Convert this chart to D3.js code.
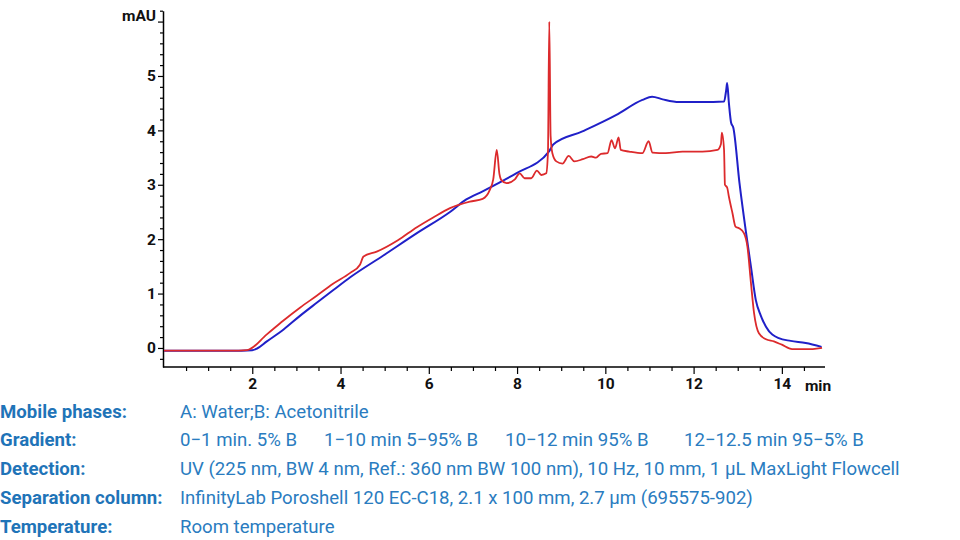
<!DOCTYPE html>
<html>
<head>
<meta charset="utf-8">
<script src="https://cdn.jsdelivr.net/npm/d3@7"></script>
<style>
  body { margin: 0; background: #fff; }
  svg { display: block; }
</style>
</head>
<body>
<div id="chart"></div>
<script>
// Chromatogram data: time (min) and absorbance (mAU)
var blueTime = [0, 0.5, 1, 1.5, 2.0, 2.11, 2.33, 2.71, 3.08, 3.46, 3.83, 4.22, 4.97, 5.73, 6.48, 6.85, 7.22, 7.6, 7.98, 8.73, 8.78, 8.82, 9.48, 10.24, 10.84, 11.06, 11.3, 11.67, 12.2, 12.69, 12.74, 12.76, 12.8, 12.85, 12.9, 13.04, 13.19, 13.3, 13.41, 13.52, 13.64, 13.93, 14.2, 14.54, 14.9];
var blueAbs = [-0.05, -0.05, -0.05, -0.05, -0.04, -0.01, 0.12, 0.34, 0.59, 0.83, 1.06, 1.30, 1.70, 2.11, 2.5, 2.73, 2.88, 3.04, 3.21, 3.62, 3.69, 3.74, 3.98, 4.28, 4.56, 4.62, 4.57, 4.52, 4.52, 4.53, 4.75, 4.87, 4.5, 4.14, 4.05, 3.03, 2.11, 1.49, 0.88, 0.6, 0.39, 0.18, 0.13, 0.09, 0.02];

var redTime = [0, 0.5, 1, 1.5, 1.88, 2.33, 2.7, 3.08, 3.46, 3.83, 4.22, 4.44, 4.52, 4.82, 5.3, 5.73, 6.1, 6.48, 6.93, 7.22, 7.38, 7.46, 7.54, 7.6, 7.64, 7.76, 7.95, 8.06, 8.17, 8.32, 8.45, 8.55, 8.66, 8.7, 8.73, 8.76, 8.8, 8.89, 9.03, 9.17, 9.3, 9.49, 9.68, 9.79, 9.9, 10.05, 10.14, 10.22, 10.3, 10.35, 10.54, 10.84, 10.98, 11.07, 11.37, 11.75, 12.2, 12.54, 12.62, 12.64, 12.69, 12.71, 12.76, 12.8, 12.88, 12.95, 13.03, 13.14, 13.22, 13.3, 13.37, 13.48, 13.64, 13.82, 14.0, 14.23, 14.7, 14.91];
var redAbs = [-0.05, -0.05, -0.05, -0.05, -0.04, 0.25, 0.5, 0.74, 0.96, 1.18, 1.38, 1.53, 1.68, 1.77, 1.98, 2.22, 2.4, 2.57, 2.69, 2.74, 2.9, 3.1, 3.64, 3.2, 3.09, 3.03, 3.1, 3.21, 3.12, 3.12, 3.26, 3.18, 3.21, 3.6, 6.0, 3.9, 3.58, 3.43, 3.39, 3.53, 3.43, 3.47, 3.52, 3.50, 3.57, 3.58, 3.82, 3.67, 3.87, 3.64, 3.61, 3.58, 3.80, 3.59, 3.58, 3.61, 3.61, 3.64, 3.75, 3.96, 3.64, 3.0, 2.95, 2.78, 2.48, 2.23, 2.2, 2.11, 1.86, 1.19, 0.64, 0.27, 0.16, 0.12, 0.06, -0.02, -0.02, 0];

var xTickLabels = [2, 4, 6, 8, 10, 12, 14];
var yTickLabels = [0, 1, 2, 3, 4, 5];

var infoLabels = ["Mobile phases:", "Gradient:", "Detection:", "Separation column:", "Temperature:"];
var infoValues = ["A: Water;B: Acetonitrile", null, "UV (225 nm, BW 4 nm, Ref.: 360 nm BW 100 nm), 10 Hz, 10 mm, 1 \u00b5L MaxLight Flowcell", "InfinityLab Poroshell 120 EC-C18, 2.1 x 100 mm, 2.7 \u00b5m (695575-902)", "Room temperature"];
var gradientSteps = ["0\u22121 min. 5% B", "1\u221210 min 5\u221295% B", "10\u221212 min 95% B", "12\u221212.5 min 95\u22125% B"];

var width = 960, height = 540;
var plot = {left: 163, right: 825, top: 10.7, bottom: 367};

var svg = d3.select("#chart").append("svg")
	.attr("width", width)
	.attr("height", height);

var x = d3.scaleLinear().domain([0, 15]).range([plot.left + 1, plot.right + 1]);
var y = d3.scaleLinear().domain([-0.35, 6.2]).range([plot.bottom, plot.top]);

var axisFont = "Roboto, 'Liberation Sans', sans-serif";

// x axis: minor ticks every 0.5 min, labelled every 2
var xAxis = svg.append("g")
	.attr("transform", "translate(0," + plot.bottom + ")")
	.call(d3.axisBottom(x)
		.tickValues(d3.range(0.5, 14.91, 0.5))
		.tickSize(4)
		.tickFormat(function(d) { return xTickLabels.indexOf(d) >= 0 ? d : ""; })
		.tickSizeOuter(0));
xAxis.select(".domain").attr("stroke", "#000").attr("stroke-width", 1.5)
	.attr("d", "M" + plot.left + ",0H" + plot.right);
xAxis.selectAll(".tick line").attr("stroke", "#000").attr("stroke-width", 1.2)
	.attr("y2", function(d) { return xTickLabels.indexOf(d) >= 0 ? 7 : 4; });
xAxis.selectAll(".tick text")
	.attr("y", 11)
	.style("font-family", axisFont)
	.style("font-weight", "bold")
	.style("font-size", "15.5px")
	.attr("fill", "#111");

svg.append("text")
	.attr("x", 818)
	.attr("y", 391)
	.attr("text-anchor", "middle")
	.style("font-family", axisFont)
	.style("font-weight", "bold")
	.style("font-size", "15.5px")
	.attr("fill", "#111")
	.text("min");

// y axis: minor ticks every 0.2 mAU, labelled at integers
var yMinor = d3.range(-0.2, 6.21, 0.2).map(function(d) { return Math.round(d * 10) / 10; });
var yAxis = svg.append("g")
	.attr("transform", "translate(" + plot.left + ",0)")
	.call(d3.axisLeft(y)
		.tickValues(yMinor)
		.tickSize(3)
		.tickFormat(function(d) { return yTickLabels.indexOf(d) >= 0 ? d : ""; })
		.tickSizeOuter(0));
yAxis.select(".domain").attr("stroke", "#000").attr("stroke-width", 1.5);
yAxis.selectAll(".tick line").attr("stroke", "#000").attr("stroke-width", 1.2)
	.attr("x2", function(d) { return Number.isInteger(d) ? -5 : -3; });
yAxis.selectAll(".tick text")
	.attr("x", -7)
	.style("font-family", axisFont)
	.style("font-weight", "bold")
	.style("font-size", "15.5px")
	.attr("fill", "#111");

svg.append("text")
	.attr("x", 156)
	.attr("y", 21)
	.attr("text-anchor", "end")
	.style("font-family", axisFont)
	.style("font-weight", "bold")
	.style("font-size", "15.5px")
	.attr("fill", "#111")
	.text("mAU");

// traces
var line = d3.line()
	.curve(d3.curveMonotoneX)
	.x(function(d) { return x(d[0]); })
	.y(function(d) { return y(d[1]); });

svg.append("path")
	.attr("fill", "none")
	.attr("stroke", "#2020c8")
	.attr("stroke-width", 2)
	.attr("stroke-linejoin", "round")
	.attr("d", line(d3.zip(blueTime, blueAbs)));

svg.append("path")
	.attr("fill", "none")
	.attr("stroke", "#dc2a2c")
	.attr("stroke-width", 1.8)
	.attr("stroke-linejoin", "round")
	.attr("d", line(d3.zip(redTime, redAbs)));

// method details below the chart
var rowY = [418, 446, 475, 504, 533];
var gradientX = [180, 324, 505, 684];
var infoFont = "Roboto, 'Noto Sans', sans-serif";
var infoSize = "18.6px";

infoLabels.forEach(function(label, i) {
	svg.append("text")
		.attr("x", 0)
		.attr("y", rowY[i])
		.style("font-family", infoFont)
		.style("font-weight", "bold")
		.style("font-size", infoSize)
		.attr("fill", "#1f74b8")
		.text(label);
	if (infoValues[i] !== null) {
		svg.append("text")
			.attr("x", 180)
			.attr("y", rowY[i])
			.style("font-family", infoFont)
			.style("font-size", infoSize)
			.attr("fill", "#2a7cc0")
			.text(infoValues[i]);
	}
});

gradientSteps.forEach(function(step, i) {
	svg.append("text")
		.attr("x", gradientX[i])
		.attr("y", rowY[1])
		.style("font-family", infoFont)
		.style("font-size", infoSize)
		.attr("fill", "#2a7cc0")
		.text(step);
});
</script>
</body>
</html>
